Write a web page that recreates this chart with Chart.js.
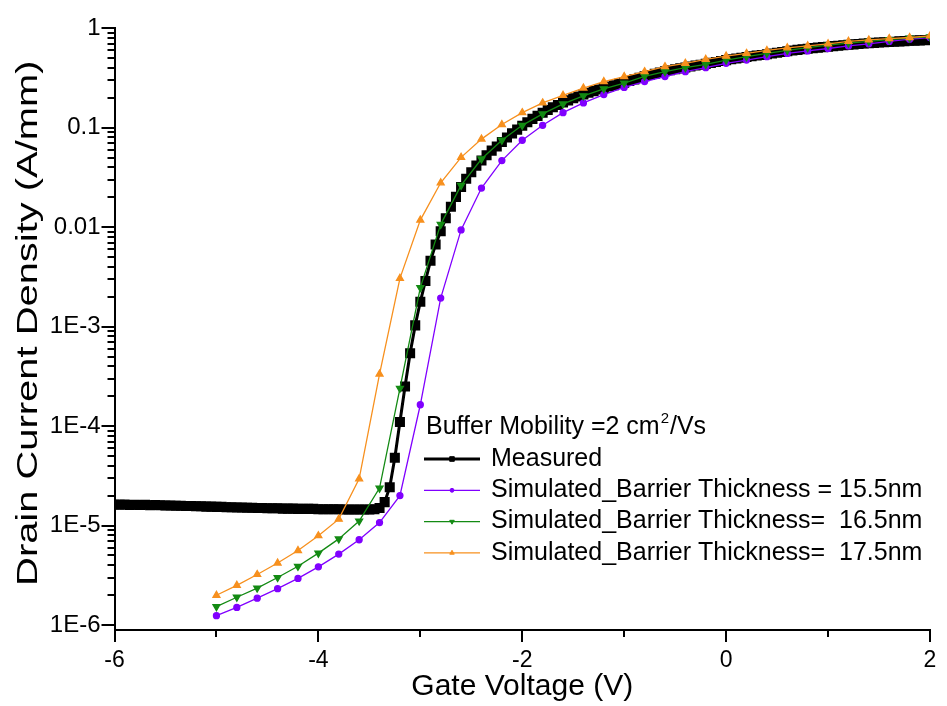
<!DOCTYPE html>
<html>
<head>
<meta charset="utf-8">
<script src="https://cdn.jsdelivr.net/npm/chart.js@4.4.1/dist/chart.umd.min.js"></script>
<style>
  html, body { margin: 0; padding: 0; background: #fff; }
</style>
</head>
<body>
<canvas id="idvgChart" width="947" height="706"></canvas>
<script>
// measured transfer curve, 0.05 V steps
var measuredVoltage = [
  -6, -5.95, -5.9, -5.85, -5.8, -5.75, -5.7, -5.65, -5.6, -5.55,
  -5.5, -5.45, -5.4, -5.35, -5.3, -5.25, -5.2, -5.15, -5.1, -5.05,
  -5, -4.95, -4.9, -4.85, -4.8, -4.75, -4.7, -4.65, -4.6, -4.55,
  -4.5, -4.45, -4.4, -4.35, -4.3, -4.25, -4.2, -4.15, -4.1, -4.05,
  -4, -3.95, -3.9, -3.85, -3.8, -3.75, -3.7, -3.65, -3.6, -3.55,
  -3.5, -3.45, -3.4, -3.35, -3.3, -3.25, -3.2, -3.15, -3.1, -3.05,
  -3, -2.95, -2.9, -2.85, -2.8, -2.75, -2.7, -2.65, -2.6, -2.55,
  -2.5, -2.45, -2.4, -2.35, -2.3, -2.25, -2.2, -2.15, -2.1, -2.05,
  -2, -1.95, -1.9, -1.85, -1.8, -1.75, -1.7, -1.65, -1.6, -1.55,
  -1.5, -1.45, -1.4, -1.35, -1.3, -1.25, -1.2, -1.15, -1.1, -1.05,
  -1, -0.95, -0.9, -0.85, -0.8, -0.75, -0.7, -0.65, -0.6, -0.55,
  -0.5, -0.45, -0.4, -0.35, -0.3, -0.25, -0.2, -0.15, -0.1, -0.05,
  0, 0.05, 0.1, 0.15, 0.2, 0.25, 0.3, 0.35, 0.4, 0.45,
  0.5, 0.55, 0.6, 0.65, 0.7, 0.75, 0.8, 0.85, 0.9, 0.95,
  1, 1.05, 1.1, 1.15, 1.2, 1.25, 1.3, 1.35, 1.4, 1.45,
  1.5, 1.55, 1.6, 1.65, 1.7, 1.75, 1.8, 1.85, 1.9, 1.95,
  2
];
var measuredCurrent = [
  1.63e-5, 1.62e-5, 1.63e-5, 1.61e-5, 1.62e-5, 1.61e-5, 1.62e-5, 1.60e-5, 1.61e-5, 1.60e-5,
  1.59e-5, 1.59e-5, 1.58e-5, 1.58e-5, 1.57e-5, 1.57e-5, 1.56e-5, 1.56e-5, 1.55e-5, 1.55e-5,
  1.54e-5, 1.54e-5, 1.53e-5, 1.53e-5, 1.52e-5, 1.52e-5, 1.51e-5, 1.51e-5, 1.50e-5, 1.50e-5,
  1.49e-5, 1.49e-5, 1.49e-5, 1.48e-5, 1.48e-5, 1.48e-5, 1.47e-5, 1.47e-5, 1.47e-5, 1.47e-5,
  1.46e-5, 1.46e-5, 1.46e-5, 1.46e-5, 1.46e-5, 1.45e-5, 1.45e-5, 1.45e-5, 1.45e-5, 1.45e-5,
  1.45e-5, 1.46e-5, 1.50e-5, 1.72e-5, 2.43e-5, 4.8e-5, 1.10e-4, 2.5e-4, 5.4e-4, 1.03e-3,
  1.78e-3, 2.88e-3, 4.6e-3, 6.7e-3, 9.1e-3, 1.23e-2, 1.61e-2, 2.02e-2, 2.54e-2, 3.07e-2,
  3.58e-2, 4.17e-2, 0.047, 0.053, 0.059, 0.065, 0.072, 0.080, 0.088, 0.096,
  0.105, 0.114, 0.123, 0.132, 0.142, 0.151, 0.161, 0.170, 0.180, 0.189,
  0.198, 0.207, 0.216, 0.225, 0.234, 0.243, 0.252, 0.260, 0.268, 0.277,
  0.285, 0.296, 0.307, 0.318, 0.330, 0.340, 0.350, 0.360, 0.370, 0.379,
  0.388, 0.396, 0.405, 0.414, 0.423, 0.431, 0.440, 0.450, 0.460, 0.470,
  0.480, 0.489, 0.498, 0.506, 0.515, 0.524, 0.533, 0.541, 0.550, 0.560,
  0.570, 0.580, 0.590, 0.599, 0.608, 0.616, 0.625, 0.633, 0.641, 0.648,
  0.655, 0.663, 0.670, 0.678, 0.685, 0.691, 0.698, 0.704, 0.710, 0.715,
  0.720, 0.725, 0.730, 0.735, 0.740, 0.745, 0.750, 0.754, 0.758, 0.762,
  0.765
];

// simulations, 0.2 V steps
var simVoltage = [
  -5, -4.8, -4.6, -4.4, -4.2, -4, -3.8, -3.6, -3.4, -3.2,
  -3, -2.8, -2.6, -2.4, -2.2, -2, -1.8, -1.6, -1.4, -1.2,
  -1, -0.8, -0.6, -0.4, -0.2, 0, 0.2, 0.4, 0.6, 0.8,
  1, 1.2, 1.4, 1.6, 1.8, 2
];
var sim155 = [
  1.24e-6, 1.50e-6, 1.86e-6, 2.32e-6, 2.94e-6, 3.84e-6, 5.16e-6, 7.2e-6, 1.07e-5, 2.0e-5,
  1.64e-4, 1.94e-3, 9.4e-3, 2.48e-2, 4.68e-2, 0.075, 0.106, 0.142, 0.178, 0.216,
  0.255, 0.292, 0.328, 0.367, 0.403, 0.445, 0.48, 0.52, 0.56, 0.594,
  0.628, 0.667, 0.70, 0.74, 0.78, 0.81
];
var sim165 = [
  1.53e-6, 1.90e-6, 2.35e-6, 3.0e-6, 3.89e-6, 5.28e-6, 7.34e-6, 1.11e-5, 2.38e-5, 2.4e-4,
  2.47e-3, 1.07e-2, 2.64e-2, 4.86e-2, 0.075, 0.106, 0.138, 0.174, 0.21, 0.247,
  0.282, 0.33, 0.367, 0.403, 0.435, 0.48, 0.52, 0.56, 0.60, 0.64,
  0.68, 0.71, 0.74, 0.77, 0.80, 0.82
];
var sim175 = [
  1.99e-6, 2.5e-6, 3.22e-6, 4.2e-6, 5.6e-6, 7.9e-6, 1.16e-5, 2.95e-5, 3.34e-4, 3.06e-3,
  1.18e-2, 2.8e-2, 5.05e-2, 0.077, 0.108, 0.142, 0.178, 0.212, 0.251, 0.292,
  0.328, 0.367, 0.412, 0.445, 0.488, 0.526, 0.56, 0.60, 0.637, 0.667,
  0.70, 0.74, 0.765, 0.79, 0.81, 0.84
];

var seriesLabels = [
  "Measured",
  "Simulated_Barrier Thickness = 15.5nm",
  "Simulated_Barrier Thickness=  16.5nm",
  "Simulated_Barrier Thickness=  17.5nm"
];
// legend heading, split so the exponent can be drawn raised
var legendTitle = ["Buffer Mobility =2 cm", "2", "/Vs"];
var yAxisTitle = "Drain Current Density (A/mm)";

var xTickValues = [-6, -5, -4, -3, -2, -1, 0, 1, 2];
var yDecades = [1e-6, 1e-5, 1e-4, 1e-3, 0.01, 0.1, 1];
var yTickLabels = ["1E-6", "1E-5", "1E-4", "1E-3", "0.01", "0.1", "1"];

var FONT = '"Liberation Sans", Arial, sans-serif';

function pairUp(xs, ys) {
  return xs.map(function(x, i) { return { x: x, y: ys[i] }; });
}

// tick marks drawn by hand so major and minor can have different lengths
var tickMarks = {
  id: 'tickMarks',
  afterDraw: function(chart) {
    var ctx = chart.ctx, a = chart.chartArea;
    var xs = chart.scales.x, ys = chart.scales.y;
    ctx.save();
    ctx.strokeStyle = '#000';
    ctx.lineWidth = 2;
    ys.ticks.forEach(function(t) {
      var py = Math.round(ys.getPixelForValue(t.value));
      var len = t.major ? 13 : 7;
      ctx.beginPath();
      ctx.moveTo(a.left, py);
      ctx.lineTo(a.left - len, py);
      ctx.stroke();
    });
    xs.ticks.forEach(function(t) {
      var px = Math.round(xs.getPixelForValue(t.value));
      var len = t.major ? 12 : 7;
      ctx.beginPath();
      ctx.moveTo(px, a.bottom);
      ctx.lineTo(px, a.bottom + len);
      ctx.stroke();
    });

    // the y title in the original is stretched along its length
    ctx.fillStyle = '#000';
    ctx.font = '30px ' + FONT;
    ctx.textAlign = 'center';
    ctx.textBaseline = 'middle';
    ctx.translate(29, (a.top + a.bottom) / 2 - 6);
    ctx.rotate(-Math.PI / 2);
    ctx.scale(1.33, 1);
    ctx.fillText(yAxisTitle, 0, 0);
    ctx.restore();
  }
};

var legendBox = {
  id: 'legendBox',
  afterDraw: function(chart) {
    var ctx = chart.ctx;
    ctx.save();
    ctx.textBaseline = 'middle';
    ctx.textAlign = 'left';
    ctx.fillStyle = '#000';
    var tx = 426;
    ctx.font = '25px ' + FONT;
    ctx.fillText(legendTitle[0], tx, 427);
    tx += ctx.measureText(legendTitle[0]).width;
    ctx.font = '15px ' + FONT;
    ctx.fillText(legendTitle[1], tx + 1, 419);
    tx += ctx.measureText(legendTitle[1]).width + 2;
    ctx.font = '25px ' + FONT;
    ctx.fillText(legendTitle[2], tx, 427);

    chart.data.datasets.forEach(function(ds, i) {
      var y = 459 + i * 31.3;
      ctx.strokeStyle = ds.borderColor;
      ctx.lineWidth = ds.borderWidth;
      ctx.beginPath();
      ctx.moveTo(424, y);
      ctx.lineTo(480, y);
      ctx.stroke();
      ctx.fillStyle = ds.pointBackgroundColor;
      ctx.strokeStyle = ds.pointBorderColor;
      ctx.lineWidth = 1;
      Chart.helpers.drawPoint(ctx, {
        pointStyle: ds.pointStyle,
        radius: ds.pointRadius * 0.65,
        rotation: ds.pointRotation || 0,
        borderWidth: 1
      }, 452, y);
      ctx.fillStyle = '#000';
      ctx.font = '25px ' + FONT;
      ctx.fillText(ds.label, 491, y);
    });
    ctx.restore();
  }
};

var ctx = document.getElementById('idvgChart').getContext('2d');
var idvgChart = new Chart(ctx, {
  type: 'line',
  data: {
    datasets: [{
      label: seriesLabels[0],
      data: pairUp(measuredVoltage, measuredCurrent),
      borderColor: '#000000',
      borderWidth: 3,
      pointStyle: 'rect',
      pointRadius: 5,
      pointBackgroundColor: '#000000',
      pointBorderColor: '#000000',
      order: 10
    }, {
      label: seriesLabels[1],
      data: pairUp(simVoltage, sim155),
      borderColor: '#8000ff',
      borderWidth: 1.3,
      pointStyle: 'circle',
      pointRadius: 3,
      pointBackgroundColor: '#8000ff',
      pointBorderColor: '#8000ff',
      order: 3
    }, {
      label: seriesLabels[2],
      data: pairUp(simVoltage, sim165),
      borderColor: '#138a13',
      borderWidth: 1.3,
      pointStyle: 'triangle',
      pointRotation: 180,
      pointRadius: 4,
      pointBackgroundColor: '#138a13',
      pointBorderColor: '#138a13',
      order: 2
    }, {
      label: seriesLabels[3],
      data: pairUp(simVoltage, sim175),
      borderColor: '#f7901e',
      borderWidth: 1.3,
      pointStyle: 'triangle',
      pointRadius: 4,
      pointBackgroundColor: '#f7901e',
      pointBorderColor: '#f7901e',
      order: 1
    }]
  },
  options: {
    responsive: false,
    animation: false,
    devicePixelRatio: 1,
    layout: { padding: { top: 23, right: 17, left: 0, bottom: 0 } },
    plugins: {
      legend: { display: false },
      tooltip: { enabled: false }
    },
    scales: {
      x: {
        type: 'linear',
        min: -6,
        max: 2,
        afterFit: function(s) {
          s.height = 76;
          s.paddingLeft = 0;
          s.paddingRight = 0;
        },
        afterBuildTicks: function(s) {
          s.ticks = xTickValues.map(function(v) { return { value: v, major: v % 2 === 0 }; });
        },
        grid: { display: false, drawTicks: false },
        border: { display: true, color: '#000', width: 2 },
        ticks: {
          autoSkip: false,
          maxRotation: 0,
          padding: 17,
          color: '#000',
          font: { family: FONT, size: 23 },
          callback: function(v, i, t) { return t[i].major ? String(v) : ''; }
        },
        title: {
          display: true,
          text: 'Gate Voltage (V)',
          color: '#000',
          font: { family: FONT, size: 30 },
          padding: { top: 0, bottom: 1 }
        }
      },
      y: {
        type: 'logarithmic',
        min: 8.9e-7,
        max: 1,
        afterFit: function(s) { s.width = 114.5; },
        afterBuildTicks: function(s) {
          var t = [];
          yDecades.forEach(function(d, k) {
            t.push({ value: d, major: true, label: yTickLabels[k] });
            if (d < 1) {
              for (var m = 2; m <= 9; m++) t.push({ value: d * m, major: false });
            }
          });
          s.ticks = t;
        },
        grid: { display: false, drawTicks: false },
        border: { display: true, color: '#000', width: 2 },
        ticks: {
          autoSkip: false,
          padding: 14,
          color: '#000',
          font: { family: FONT, size: 24 },
          callback: function(v, i, t) { return t[i].major ? t[i].label : ''; }
        },
        title: { display: false }
      }
    }
  },
  plugins: [tickMarks, legendBox]
});
</script>
</body>
</html>
